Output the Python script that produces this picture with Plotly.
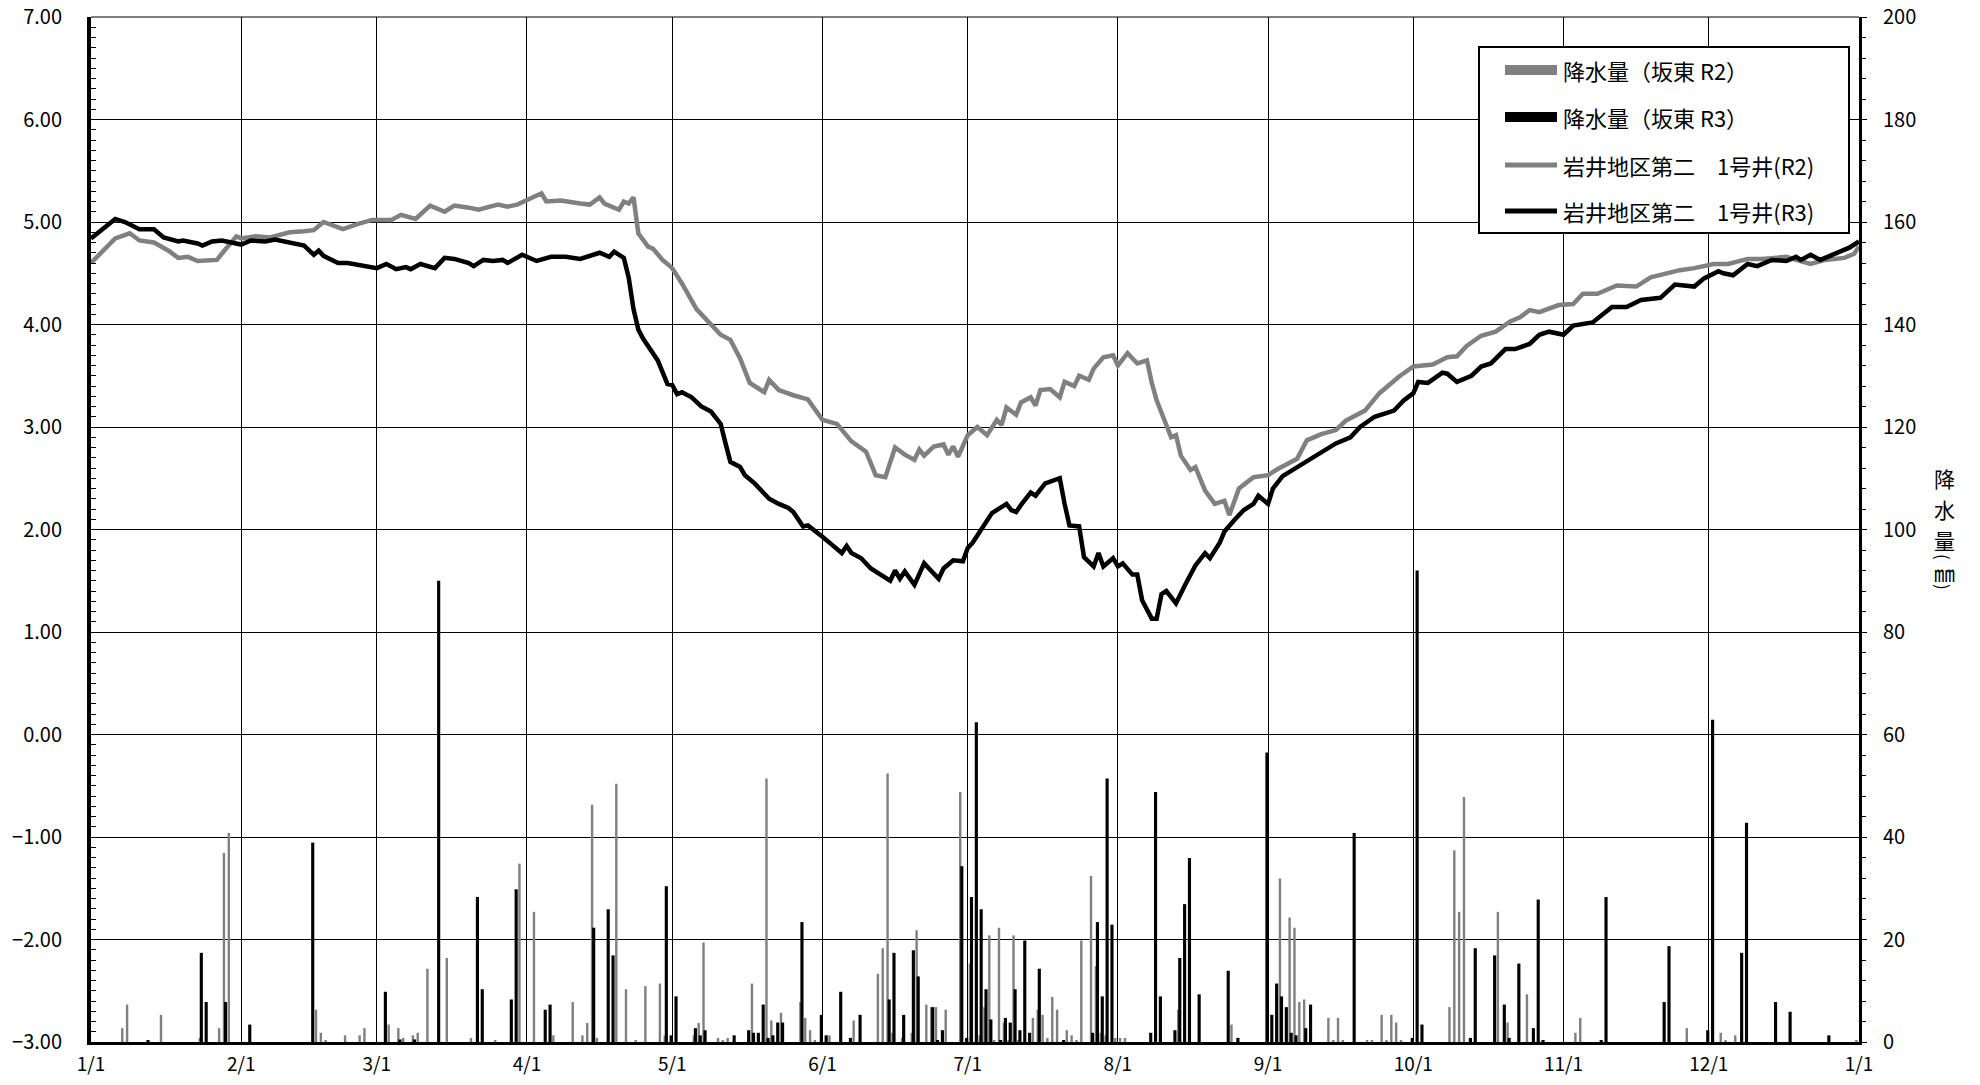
import plotly.graph_objects as go

# ---------------- data ----------------
# day index: 0 = 1/1, 365 = next 1/1
month_start_days = [0, 31, 59, 90, 120, 151, 181, 212, 243, 273, 304, 334, 365]
month_labels = ["1/1", "2/1", "3/1", "4/1", "5/1", "6/1", "7/1", "8/1", "9/1", "10/1", "11/1", "12/1", "1/1"]

# groundwater level (m) - 岩井地区第二 1号井 R2 (gray)
r2_level = [
    (0, 4.60), (3, 4.74), (5, 4.84), (8, 4.89), (10, 4.82), (13, 4.80), (16, 4.72), (18, 4.65),
    (20, 4.66), (22, 4.62), (26, 4.63), (27, 4.69), (30, 4.86), (31, 4.84), (34, 4.86), (37, 4.85),
    (41, 4.90), (44, 4.91), (46, 4.92), (48, 5.00), (52, 4.93), (55, 4.98), (58, 5.02), (62, 5.02),
    (64, 5.07), (67, 5.03), (70, 5.16), (73, 5.10), (75, 5.16), (78, 5.14), (80, 5.12), (84, 5.17),
    (86, 5.15), (88, 5.17), (91, 5.23), (93, 5.28), (94, 5.20), (97, 5.21), (101, 5.18), (103, 5.17),
    (105, 5.24), (106, 5.18), (109, 5.12), (110, 5.20), (111, 5.18), (112, 5.24), (113, 4.89),
    (115, 4.76), (116, 4.74), (118, 4.63), (120, 4.55), (122, 4.40), (125, 4.15), (127, 4.05),
    (130, 3.90), (132, 3.85), (134, 3.67), (136, 3.43), (139, 3.34), (140, 3.46), (142, 3.36),
    (145, 3.31), (148, 3.27), (151, 3.07), (154, 3.03), (157, 2.86), (160, 2.76), (162, 2.53),
    (164, 2.51), (166, 2.80), (168, 2.73), (170, 2.68), (171, 2.78), (172, 2.72), (174, 2.81),
    (176, 2.83), (177, 2.73), (178, 2.81), (179, 2.71), (181, 2.92), (183, 3.00), (185, 2.92),
    (187, 3.07), (188, 3.02), (189, 3.19), (191, 3.12), (192, 3.24), (194, 3.29), (195, 3.21),
    (196, 3.36), (198, 3.37), (200, 3.29), (201, 3.44), (203, 3.40), (204, 3.50), (206, 3.46),
    (207, 3.57), (209, 3.68), (211, 3.70), (212, 3.60), (214, 3.72), (216, 3.62), (218, 3.65),
    (219, 3.43), (220, 3.26), (223, 2.90), (224, 2.92), (225, 2.72), (227, 2.58), (228, 2.61),
    (230, 2.38), (232, 2.25), (234, 2.28), (235, 2.14), (237, 2.40), (240, 2.51), (243, 2.53),
    (245, 2.59), (249, 2.69), (251, 2.87), (254, 2.93), (257, 2.97), (259, 3.06), (263, 3.16),
    (266, 3.33), (270, 3.49), (273, 3.59), (277, 3.61), (280, 3.68), (282, 3.69), (284, 3.79),
    (287, 3.89), (290, 3.93), (293, 4.03), (295, 4.07), (297, 4.14), (299, 4.12), (303, 4.19),
    (306, 4.20), (308, 4.30), (311, 4.30), (315, 4.38), (319, 4.37), (322, 4.46), (325, 4.50),
    (328, 4.53), (331, 4.55), (335, 4.59), (338, 4.59), (342, 4.64), (345, 4.64), (350, 4.66),
    (352, 4.63), (355, 4.59), (358, 4.63), (362, 4.65), (364, 4.69), (365, 4.76),
]

# groundwater level (m) - 岩井地区第二 1号井 R3 (black)
r3_level = [
    (0, 4.84), (3, 4.95), (5, 5.03), (7, 5.00), (10, 4.93), (13, 4.93), (15, 4.85), (18, 4.81),
    (19, 4.82), (22, 4.79), (23, 4.77), (25, 4.81), (27, 4.82), (29, 4.80), (31, 4.78), (33, 4.82),
    (36, 4.81), (38, 4.83), (41, 4.80), (44, 4.77), (46, 4.68), (47, 4.72), (48, 4.67), (51, 4.60),
    (53, 4.60), (55, 4.58), (57, 4.57), (59, 4.55), (61, 4.59), (63, 4.54), (65, 4.56), (66, 4.54),
    (68, 4.59), (71, 4.55), (73, 4.65), (75, 4.64), (78, 4.60), (79, 4.57), (81, 4.63), (83, 4.62),
    (85, 4.63), (86, 4.60), (89, 4.68), (90, 4.66), (92, 4.62), (95, 4.66), (98, 4.66), (101, 4.64),
    (105, 4.70), (107, 4.66), (108, 4.71), (110, 4.65), (111, 4.46), (112, 4.15), (113, 3.95),
    (114, 3.86), (117, 3.65), (119, 3.42), (120, 3.41), (121, 3.32), (122, 3.34), (124, 3.29),
    (126, 3.20), (128, 3.15), (130, 3.03), (131, 2.84), (132, 2.66), (134, 2.61), (135, 2.53),
    (137, 2.45), (138, 2.40), (140, 2.30), (142, 2.25), (144, 2.21), (145, 2.17), (147, 2.03),
    (148, 2.04), (150, 1.97), (151, 1.93), (153, 1.85), (155, 1.77), (156, 1.84), (157, 1.77),
    (159, 1.72), (161, 1.62), (163, 1.56), (165, 1.50), (166, 1.60), (167, 1.52), (168, 1.59),
    (170, 1.46), (172, 1.67), (174, 1.56), (175, 1.52), (176, 1.62), (178, 1.70), (180, 1.69),
    (181, 1.82), (182, 1.87), (184, 2.01), (186, 2.16), (189, 2.25), (190, 2.19), (191, 2.17),
    (192, 2.24), (194, 2.36), (195, 2.33), (197, 2.45), (200, 2.50), (201, 2.25), (202, 2.04),
    (204, 2.03), (205, 1.73), (207, 1.64), (208, 1.77), (209, 1.64), (211, 1.72), (212, 1.64),
    (213, 1.67), (215, 1.56), (216, 1.56), (217, 1.31), (218, 1.23), (219, 1.13), (220, 1.13),
    (221, 1.37), (222, 1.40), (224, 1.28), (226, 1.47), (228, 1.65), (230, 1.77), (231, 1.72),
    (233, 1.87), (234, 1.98), (236, 2.09), (238, 2.19), (240, 2.25), (241, 2.33), (243, 2.25),
    (244, 2.40), (246, 2.52), (250, 2.64), (254, 2.76), (257, 2.84), (260, 2.90), (262, 3.00),
    (265, 3.10), (269, 3.16), (271, 3.26), (273, 3.33), (274, 3.44), (276, 3.43), (279, 3.53),
    (280, 3.52), (282, 3.44), (285, 3.50), (287, 3.59), (289, 3.62), (292, 3.76), (294, 3.76),
    (297, 3.81), (299, 3.90), (301, 3.93), (304, 3.90), (306, 3.99), (310, 4.02), (314, 4.17),
    (317, 4.17), (320, 4.24), (324, 4.26), (327, 4.39), (331, 4.37), (333, 4.45), (336, 4.52),
    (337, 4.50), (339, 4.48), (342, 4.59), (344, 4.57), (347, 4.63), (350, 4.62), (352, 4.66),
    (353, 4.63), (355, 4.68), (357, 4.63), (359, 4.67), (362, 4.73), (363, 4.75), (365, 4.81),
]

# daily precipitation (mm) - 坂東 R2 (gray)
r2_rain = [
    (6, 2.7), (7, 7.3), (14, 5.3), (22, 0.8), (26, 2.7), (27, 36.9), (28, 40.8), (46, 6.3),
    (47, 1.8), (48, 0.3), (52, 1.3), (55, 1.3), (56, 2.7), (61, 3.4), (63, 2.7), (64, 0.8),
    (66, 1.3), (67, 1.8), (69, 14.3), (73, 16.4), (78, 0.8), (83, 0.3), (88, 34.8), (91, 25.4),
    (95, 1.3), (99, 7.8), (101, 1.3), (102, 3.7), (103, 46.3), (104, 0.8), (108, 50.4),
    (110, 10.3), (112, 0.3), (114, 10.9), (117, 11.4), (118, 1.3), (124, 1.3), (125, 3.7),
    (126, 19.4), (129, 0.8), (130, 0.3), (131, 0.8), (136, 11.4), (139, 51.4), (140, 4.2),
    (142, 5.7), (146, 7.8), (147, 4.7), (148, 2.3), (149, 0.3), (152, 1.3), (157, 4.2),
    (162, 13.3), (163, 18.3), (164, 52.4), (165, 1.8), (167, 0.8), (169, 1.8), (170, 21.8),
    (172, 7.3), (173, 6.8), (174, 6.8), (176, 6.3), (179, 48.8), (181, 15.3), (183, 1.3),
    (184, 6.8), (185, 20.8), (186, 0.3), (187, 22.3), (188, 3.8), (189, 0.3), (190, 20.8),
    (191, 0.3), (194, 4.7), (195, 6.3), (196, 5.3), (197, 0.8), (198, 8.8), (199, 6.3),
    (201, 2.3), (202, 1.3), (203, 0.3), (204, 19.8), (206, 32.4), (207, 14.8), (208, 1.8),
    (209, 1.3), (211, 0.8), (212, 0.8), (213, 0.8), (224, 6.3), (235, 3.4), (245, 31.9),
    (247, 24.3), (248, 22.3), (249, 7.8), (250, 8.3), (255, 4.7), (256, 0.3), (257, 4.7),
    (258, 0.3), (263, 0.3), (264, 0.3), (266, 5.3), (267, 0.3), (268, 5.3), (269, 3.8),
    (270, 0.3), (280, 6.8), (281, 37.4), (282, 25.4), (283, 47.8), (290, 25.4), (292, 3.8),
    (296, 9.3), (306, 1.8), (307, 4.7), (329, 2.7), (336, 1.8), (337, 0.3), (339, 1.3), (364, 0.3),
]

# daily precipitation (mm) - 坂東 R3 (black)
r3_rain = [
    (11, 0.3), (22, 17.4), (23, 7.8), (27, 7.8), (32, 3.4), (45, 38.9), (60, 9.8), (63, 0.5),
    (66, 0.5), (71, 90.0), (79, 28.3), (80, 10.3), (86, 8.3), (87, 29.8), (93, 6.3), (94, 7.3),
    (103, 22.3), (106, 25.9), (107, 16.9), (118, 30.4), (119, 1.3), (120, 8.9), (124, 2.7),
    (125, 1.3), (126, 2.3), (132, 1.3), (135, 2.3), (136, 1.8), (137, 1.8), (138, 7.3),
    (139, 0.8), (140, 1.3), (141, 3.8), (142, 3.8), (146, 23.4), (150, 5.3), (151, 1.3),
    (154, 9.8), (156, 0.8), (158, 5.3), (164, 8.3), (165, 17.4), (167, 5.3), (169, 17.9),
    (170, 12.8), (173, 6.8), (174, 0.3), (175, 2.3), (179, 34.3), (180, 0.8), (181, 28.3),
    (182, 62.4), (183, 25.9), (184, 10.3), (185, 4.4), (187, 0.3), (188, 4.7), (189, 3.8),
    (190, 10.3), (191, 2.3), (192, 19.8), (193, 1.8), (195, 14.3), (200, 0.3), (206, 1.8),
    (207, 23.4), (208, 8.9), (209, 51.4), (210, 22.9), (218, 1.8), (219, 48.8), (220, 8.9),
    (223, 2.3), (224, 16.4), (225, 26.9), (226, 35.9), (228, 9.3), (234, 13.9), (236, 0.8),
    (242, 56.5), (243, 5.3), (244, 11.4), (245, 8.9), (246, 6.8), (247, 1.8), (248, 1.3),
    (250, 2.7), (251, 7.3), (260, 40.8), (272, 0.8), (273, 92.0), (274, 3.4), (284, 0.8),
    (285, 18.3), (289, 16.9), (291, 7.3), (292, 0.8), (294, 15.3), (297, 2.7), (298, 27.8),
    (299, 0.3), (311, 0.3), (312, 28.3), (324, 7.8), (325, 18.7), (333, 2.3), (334, 62.9),
    (340, 17.4), (341, 42.8), (347, 7.8), (350, 5.9), (358, 1.3),
]

level_ticks = [-3, -2, -1, 0, 1, 2, 3, 4, 5, 6, 7]
rain_ticks = [0, 20, 40, 60, 80, 100, 120, 140, 160, 180, 200]

legend_names = ["降水量（坂東 R2）", "降水量（坂東 R3）", "岩井地区第二　1号井(R2)", "岩井地区第二　1号井(R3)"]
axis_title_chars = ["降", "水", "量", "(", "㎜", ")"]

# ---------------- figure ----------------
W, H = 1980, 1085
L, R, T, B = 91, 1859, 17, 1042   # plot area in pixels
GRAY = "#808080"
FONT = "Noto Sans CJK JP, Noto Sans, sans-serif"


def px(xp):
    """pixel x -> paper coordinate"""
    return (xp - L) / (R - L)


def py(yp):
    """pixel y -> paper coordinate"""
    return (B - yp) / (B - T)


def unzip(pairs):
    return [p[0] for p in pairs], [p[1] for p in pairs]


fig = go.Figure()

d, v = unzip(r2_rain)
fig.add_trace(go.Bar(x=d, y=v, width=0.5, offset=0.2, marker=dict(color=GRAY, line=dict(width=0)),
                     yaxis="y", name=legend_names[0], showlegend=False))
d, v = unzip(r3_rain)
fig.add_trace(go.Bar(x=d, y=v, width=0.65, offset=0.45, marker=dict(color="black", line=dict(width=0)),
                     yaxis="y", name=legend_names[1], showlegend=False))
d, v = unzip(r2_level)
fig.add_trace(go.Scatter(x=d, y=v, mode="lines", line=dict(color=GRAY, width=4.5),
                         yaxis="y2", name=legend_names[2], showlegend=False))
d, v = unzip(r3_level)
fig.add_trace(go.Scatter(x=d, y=v, mode="lines", line=dict(color="black", width=4.5),
                         yaxis="y2", name=legend_names[3], showlegend=False))

tickfont = dict(family=FONT, size=20, color="black")

fig.update_layout(
    width=W, height=H,
    margin=dict(l=L, r=W - R, t=T, b=H - B, pad=0, autoexpand=False),
    paper_bgcolor="white", plot_bgcolor="white",
    barmode="overlay",
    showlegend=False,
    xaxis=dict(
        range=[0, 365], tickmode="array", tickvals=month_start_days, ticktext=month_labels,
        showgrid=True, gridcolor="black", gridwidth=1,
        showline=True, linecolor="black", linewidth=3,
        ticks="", tickfont=dict(family=FONT, size=19, color="black"),
        ticklabelstandoff=3, zeroline=False, automargin=False, ticklabeloverflow="allow",
    ),
    yaxis=dict(
        range=[0, 200], tickmode="array", tickvals=rain_ticks,
        side="right", showgrid=False, zeroline=False, automargin=False,
        showline=True, linecolor="black", linewidth=3,
        ticks="outside", ticklen=5, tickcolor="black",
        minor=dict(dtick=4, ticks="outside", ticklen=4, tickcolor="black", showgrid=False),
        tickfont=tickfont, ticklabelstandoff=12, ticklabeloverflow="allow",
    ),
    yaxis2=dict(
        range=[-3, 7], tickmode="array", tickvals=level_ticks, tickformat=".2f",
        overlaying="y", side="left", automargin=False,
        showgrid=True, gridcolor="black", gridwidth=1, zeroline=False,
        showline=True, linecolor="black", linewidth=4,
        ticks="inside", ticklen=6, tickcolor="black",
        minor=dict(dtick=0.1, ticks="inside", ticklen=5, tickcolor="black", showgrid=False),
        tickfont=tickfont, ticklabelstandoff=21, ticklabeloverflow="allow",
    ),
)

shapes = []
annotations = []

# top border line of plot area
shapes.append(dict(type="line", xref="paper", yref="paper", x0=0, x1=1, y0=1, y1=1,
                   line=dict(color="black", width=1)))

# legend box (drawn manually)
shapes.append(dict(type="rect", xref="paper", yref="paper",
                   x0=px(1479), x1=px(1849), y0=py(233), y1=py(47),
                   line=dict(color="black", width=2), fillcolor="white", layer="above"))
entry_y = [70, 117, 165, 211]
sym_x0, sym_x1, text_x = 1505, 1557, 1561
shapes.append(dict(type="rect", xref="paper", yref="paper", x0=px(sym_x0), x1=px(sym_x1),
                   y0=py(entry_y[0] + 5), y1=py(entry_y[0] - 5), line=dict(width=0),
                   fillcolor=GRAY, layer="above"))
shapes.append(dict(type="rect", xref="paper", yref="paper", x0=px(sym_x0), x1=px(sym_x1),
                   y0=py(entry_y[1] + 5), y1=py(entry_y[1] - 5), line=dict(width=0),
                   fillcolor="black", layer="above"))
shapes.append(dict(type="line", xref="paper", yref="paper", x0=px(sym_x0), x1=px(sym_x1),
                   y0=py(entry_y[2]), y1=py(entry_y[2]), line=dict(color=GRAY, width=5), layer="above"))
shapes.append(dict(type="line", xref="paper", yref="paper", x0=px(sym_x0), x1=px(sym_x1),
                   y0=py(entry_y[3]), y1=py(entry_y[3]), line=dict(color="black", width=5), layer="above"))
for name, yy in zip(legend_names, entry_y):
    annotations.append(dict(text=name, xref="paper", yref="paper", x=px(text_x), y=py(yy),
                            xanchor="left", yanchor="middle", showarrow=False,
                            font=dict(family=FONT, size=22, color="black")))

# right axis title: vertically stacked characters, parentheses turned sideways
title_y = [478, 509, 540, 557, 572, 587]
for ch, yy in zip(axis_title_chars, title_y):
    turned = ch in "()"
    annotations.append(dict(text=ch, xref="paper", yref="paper", x=px(1944), y=py(yy),
                            xanchor="center", yanchor="middle", showarrow=False,
                            textangle=90 if turned else 0,
                            font=dict(family=FONT, size=17 if turned else 21, color="black")))

fig.update_layout(shapes=shapes, annotations=annotations)

# remove the browser's default 8px body margin so the figure fills the window exactly
fig.write_html("out.html", config={"displayModeBar": False},
               post_script="document.body.style.margin='0px';")
